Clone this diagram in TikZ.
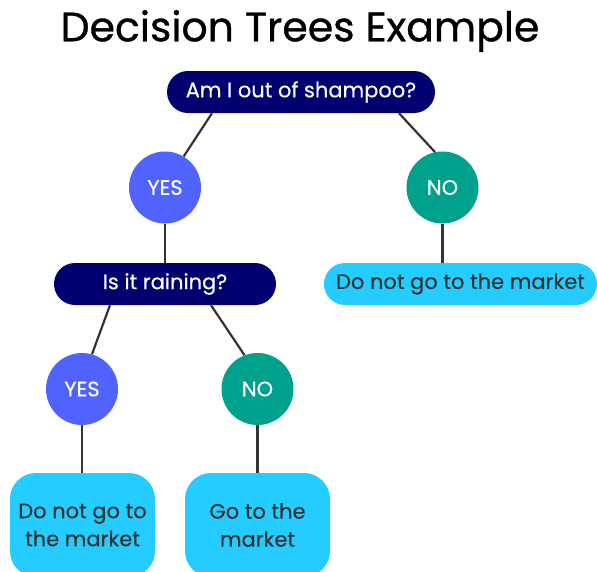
\documentclass[tikz,border=0pt]{standalone}
\usepackage{fontspec}
\setmainfont{Poppins}
\newfontfamily\titlefont[FakeBold=0.8]{Poppins}
\newfontfamily\labelfont[FakeBold=0.3]{Poppins}
\usepackage{xcolor}
\usepackage{tikz}
\usetikzlibrary{positioning,calc}
\definecolor{asknavy}{RGB}{2,0,112}
\definecolor{yesblue}{RGB}{81,99,255}
\definecolor{noteal}{RGB}{0,161,140}
\definecolor{leafcyan}{RGB}{36,204,255}
\definecolor{inkgray}{RGB}{51,51,51}
\tikzset{
  question/.style={rectangle, rounded corners=21pt, fill=asknavy, text=white, inner sep=0pt, minimum height=42pt, font=\labelfont\fontsize{21}{24}\selectfont},
  yesv/.style={circle, fill=yesblue, text=white, inner sep=0pt, minimum size=72pt, font=\labelfont\fontsize{21}{24}\selectfont},
  nov/.style={circle, fill=noteal, text=white, inner sep=0pt, minimum size=72pt, font=\labelfont\fontsize{21}{24}\selectfont},
  leaf/.style={rectangle, rounded corners=21pt, fill=leafcyan, text=inkgray, inner sep=0pt, minimum height=42pt, font=\labelfont\fontsize{21}{24}\selectfont},
  bigleaf/.style={leaf, rounded corners=26pt, minimum height=104pt, align=center, font=\labelfont\fontsize{21}{28}\selectfont},
  link/.style={line width=2.2pt, inkgray}
}

\begin{document}
\begin{tikzpicture}[x=1pt,y=-1pt]
  \path[use as bounding box] (0,0) rectangle (597,571);
  \clip (0,0) rectangle (597,571);

  % Title
  \node[font=\titlefont\fontsize{41}{44}\selectfont] (title) at (300,31) {Decision Trees Example};

  % First question
  \node[question, minimum width=268pt] (q1) at (301,92) {Am I out of shampoo?};
  \node[yesv] (yes1) at (165,187.5) {YES};
  \node[nov] (no1) at (442.5,187.5) {NO};
  \draw[link] ([xshift=-89pt]q1.south) -- (yes1.59);
  \draw[link] ([xshift=98pt]q1.south) -- (no1.102);

  % Right branch
  \node[leaf, minimum width=273pt] (leaf1) at (460.5,284) {Do not go to the market};
  \draw[link] (no1.south) -- (no1.south |- leaf1.north);

  % Second question
  \node[question, minimum width=222pt] (q2) at (165,284) {Is it raining?};
  \draw[link] (yes1) -- (q2);
  \node[yesv] (yes2) at (82,389) {YES};
  \node[nov] (no2) at (257.5,389) {NO};
  \draw[link] ([xshift=-55pt]q2.south) -- (yes2.74);
  \draw[link] ([xshift=46pt]q2.south) -- (no2.111);

  % Leaves
  \node[bigleaf, minimum width=145pt] (leaf2) at (82.5,525) {Do not go to\\the market};
  \node[bigleaf, minimum width=145pt] (leaf3) at (257.5,525) {Go to the\\market};
  \draw[link] (yes2.south) -- (yes2.south |- leaf2.north);
  \draw[link] (no2.south) -- (no2.south |- leaf3.north);
\end{tikzpicture}
\end{document}
